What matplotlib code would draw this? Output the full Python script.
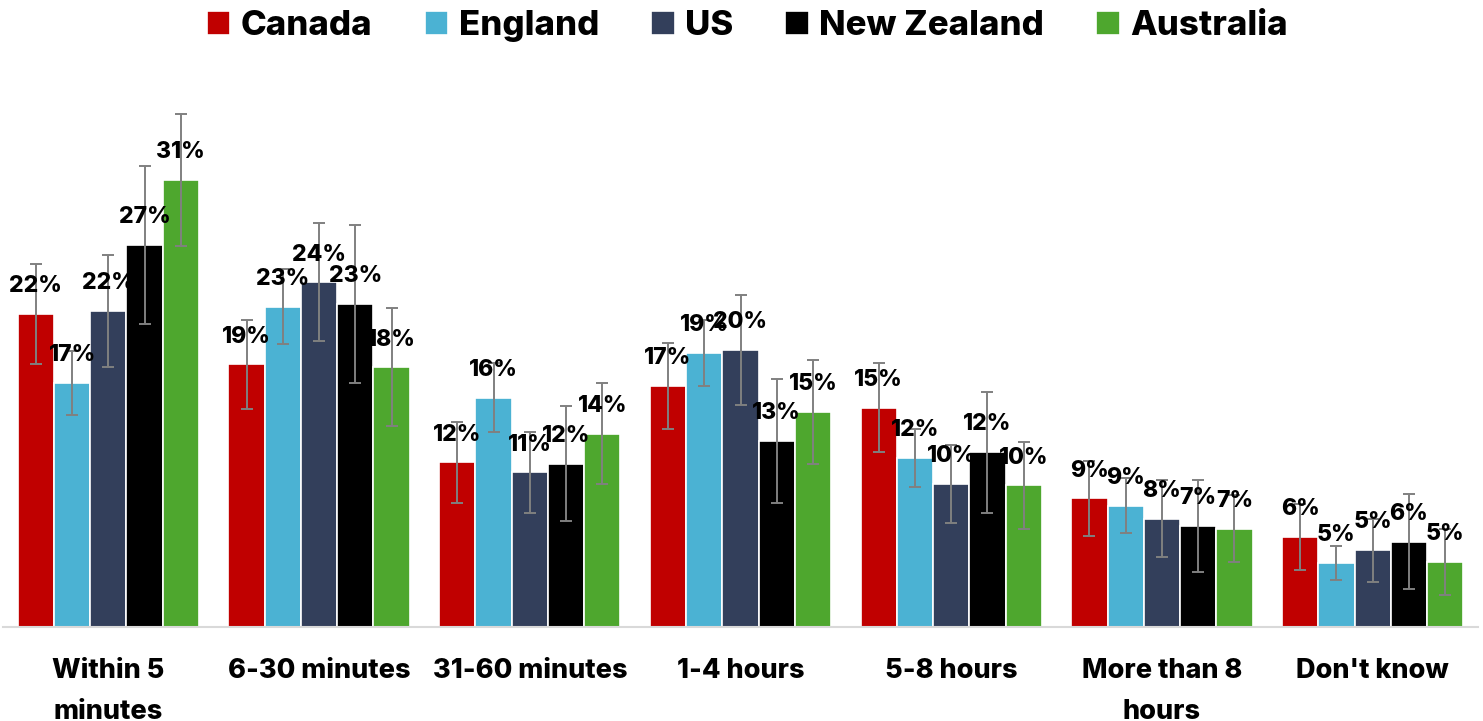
import matplotlib.pyplot as plt
import numpy as np

categories = ["Within 5\nminutes", "6-30 minutes", "31-60 minutes", "1-4 hours",
              "5-8 hours", "More than 8\nhours", "Don't know"]
countries = ["Canada", "England", "US", "New Zealand", "Australia"]
colors = ["#C00000", "#4BB2D3", "#333F5B", "#000000", "#4EA72E"]

canada = [21.7, 18.2, 11.4, 16.7, 15.2, 8.9, 6.2]
england = [16.9, 22.2, 15.9, 19.0, 11.7, 8.4, 4.4]
us = [21.9, 23.9, 10.7, 19.2, 9.9, 7.5, 5.3]
nz = [26.5, 22.4, 11.3, 12.9, 12.1, 7.0, 5.9]
aus = [31.0, 18.0, 13.4, 14.9, 9.8, 6.8, 4.5]

canada_err = [3.5, 3.1, 2.8, 3.0, 3.1, 2.6, 2.3]
england_err = [2.2, 2.6, 2.4, 2.3, 2.0, 1.9, 1.2]
us_err = [3.9, 4.1, 2.8, 3.8, 2.7, 2.7, 2.2]
nz_err = [5.5, 5.5, 4.0, 4.3, 4.2, 3.2, 3.3]
aus_err = [4.6, 4.1, 3.5, 3.6, 3.0, 2.3, 2.3]

canada_lbl = ["22%", "19%", "12%", "17%", "15%", "9%", "6%"]
england_lbl = ["17%", "23%", "16%", "19%", "12%", "9%", "5%"]
us_lbl = ["22%", "24%", "11%", "20%", "10%", "8%", "5%"]
nz_lbl = ["27%", "23%", "12%", "13%", "12%", "7%", "6%"]
aus_lbl = ["31%", "18%", "14%", "15%", "10%", "7%", "5%"]

series = [canada, england, us, nz, aus]
errors = [canada_err, england_err, us_err, nz_err, aus_err]
labels = [canada_lbl, england_lbl, us_lbl, nz_lbl, aus_lbl]

plt.rcParams['font.family'] = ['Inter', 'DejaVu Sans']
plt.rcParams['font.weight'] = 800

fig = plt.figure(figsize=(14.83, 7.21), dpi=100)
ax = fig.add_axes([3 / 1483, (721 - 626.5) / 721, 1475 / 1483, 566.5 / 721])

x = np.arange(len(categories))
w = 0.172
for i, (vals, err, lbl) in enumerate(zip(series, errors, labels)):
    pos = x + (i - 2) * w
    ax.bar(pos, vals, w, color=colors[i], edgecolor="white", linewidth=1.2,
           label=countries[i], zorder=2)
    ax.errorbar(pos, vals, yerr=err, fmt="none", ecolor="#808080",
                elinewidth=1.4, capsize=4.2, capthick=1.4, zorder=3)
    for p, v, t in zip(pos, vals, lbl):
        ax.annotate(t, (p, v), xytext=(0, 20), textcoords="offset points",
                    ha="center", va="center", fontsize=16.5, fontweight=800,
                    color="black", zorder=4)

ax.set_xlim(-0.5, len(categories) - 0.5)
ax.set_ylim(0, 566.5 / 14.4)
ax.set_yticks([])
ax.set_xticks(x)
ax.set_xticklabels(categories, fontsize=19.5, fontweight=800, linespacing=1.75)
ax.tick_params(axis="x", length=0, pad=23)
for s in ["top", "right", "left"]:
    ax.spines[s].set_visible(False)
ax.spines["bottom"].set_color("#D9D9D9")
ax.spines["bottom"].set_linewidth(1.5)

fig.legend(loc="center", bbox_to_anchor=(0.504, 1 - 26 / 721), ncol=5,
           frameon=False, prop={"size": 25, "weight": 800},
           handlelength=0.68, handleheight=0.68, handletextpad=0.3,
           columnspacing=1.5)

fig.savefig("out.png", dpi=100)
